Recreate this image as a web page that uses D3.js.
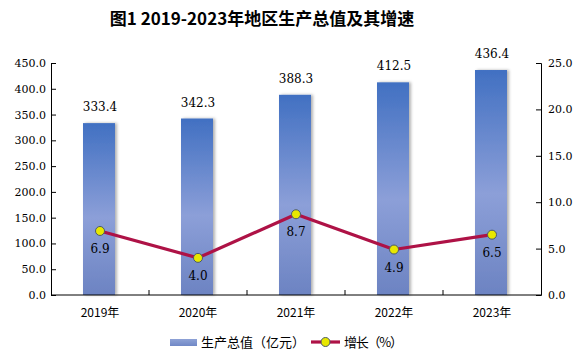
<!DOCTYPE html>
<html><head><meta charset="utf-8">
<script src="https://cdn.jsdelivr.net/npm/d3@7"></script>
<style>body{margin:0;background:#fff}svg{display:block}</style>
</head><body>
<svg id="c" width="580" height="362"></svg>
<script>
const categories = ["2019年","2020年","2021年","2022年","2023年"];
const gdpValues = [333.4, 342.3, 388.3, 412.5, 436.4];
const growthValues = [6.9, 4.0, 8.7, 4.9, 6.5];
const leftTicks = [0,50,100,150,200,250,300,350,400,450];
const rightTicks = [0,5,10,15,20,25];
const title = "图1 2019-2023年地区生产总值及其增速";
const legendLabels = ["生产总值（亿元）","增长（%）"];

const svg = d3.select("#c");
const L = 51, R = 541, T = 63, B = 295;
const x = d3.scaleBand().domain(categories).range([L, R]);
const yL = d3.scaleLinear().domain([0,450]).range([B, T]);
const yR = d3.scaleLinear().domain([0,25]).range([B, T]);
const numFont = "'DejaVu Serif', serif";
const cjk = "'Noto Sans CJK SC', sans-serif";

const defs = svg.append("defs");
const g = defs.append("linearGradient").attr("id","bg").attr("x1",0).attr("y1",0).attr("x2",0).attr("y2",1);
g.append("stop").attr("offset","0%").attr("stop-color","#4170C2");
g.append("stop").attr("offset","55%").attr("stop-color","#8C9FD8");
g.append("stop").attr("offset","100%").attr("stop-color","#6C83C2");
const lg = defs.append("linearGradient").attr("id","lgb").attr("x1",0).attr("y1",0).attr("x2",0).attr("y2",1);
lg.append("stop").attr("offset","0%").attr("stop-color","#8EA2D6");
lg.append("stop").attr("offset","100%").attr("stop-color","#7088C6");
const f = defs.append("filter").attr("id","sh").attr("x","-30%").attr("y","-10%").attr("width","160%").attr("height","120%");
f.append("feDropShadow").attr("dx",2).attr("dy",0).attr("stdDeviation",1.5).attr("flood-color","#000").attr("flood-opacity",0.3);

svg.append("text").attr("x",262).attr("y",25).attr("text-anchor","middle")
  .style("font-family",cjk).style("font-weight","bold").style("font-size","17px").attr("fill","#000").text(title);

// bars
const bw = 32;
svg.selectAll(".bar").data(gdpValues).enter().append("rect")
  .attr("x",(d,i)=>x(categories[i])+x.bandwidth()/2-bw/2-1)
  .attr("y",d=>yL(d)).attr("width",bw).attr("height",d=>B-yL(d))
  .attr("fill","url(#bg)").attr("filter","url(#sh)");
svg.selectAll(".bl").data(gdpValues).enter().append("text")
  .attr("x",(d,i)=>x(categories[i])+x.bandwidth()/2).attr("y",d=>yL(d)-12)
  .attr("text-anchor","middle").style("font-family",numFont).style("font-size","12px").attr("fill","#000")
  .text(d=>d.toFixed(1));

// axes
const axL = d3.axisLeft(yL).tickValues(leftTicks).tickSize(-5).tickPadding(9).tickFormat(d=>d.toFixed(1));
const gl = svg.append("g").attr("transform",`translate(${L},0)`).call(axL);
const axR = d3.axisRight(yR).tickValues(rightTicks).tickSize(-5).tickPadding(9).tickFormat(d=>d.toFixed(1));
const gr = svg.append("g").attr("transform",`translate(${R},0)`).call(axR);
[gl,gr].forEach(a=>{a.select(".domain").attr("stroke","#000");a.selectAll("line").attr("stroke","#000");
  a.selectAll("text").style("font-family",numFont).style("font-size","11px").attr("fill","#000");});
gl.selectAll("text").attr("x",-5);
gr.selectAll("text").attr("x",7);
// x axis
const gx = svg.append("g").attr("transform",`translate(0,${B})`);
gx.append("line").attr("x1",L).attr("x2",R).attr("stroke","#000");
gx.selectAll(".t").data(categories.slice(1)).enter().append("line")
  .attr("x1",d=>x(d)).attr("x2",d=>x(d)).attr("y1",0).attr("y2",-5).attr("stroke","#000");
gx.selectAll(".c").data(categories).enter().append("text")
  .attr("x",d=>x(d)+x.bandwidth()/2).attr("y",22).attr("text-anchor","middle")
  .style("font-family",cjk).style("font-size","12px").attr("fill","#000").text(d=>d);

// line
const line = d3.line().x((d,i)=>x(categories[i])+x.bandwidth()/2).y(d=>yR(d));
svg.append("path").datum(growthValues).attr("d",line).attr("fill","none")
  .attr("stroke","#AE1246").attr("stroke-width",3.2).attr("stroke-linejoin","round");
svg.selectAll(".pt").data(growthValues).enter().append("circle")
  .attr("cx",(d,i)=>x(categories[i])+x.bandwidth()/2).attr("cy",d=>yR(d)).attr("r",4.5)
  .attr("fill","#E8E800").attr("stroke","#4A5A6A").attr("stroke-width",1);
svg.selectAll(".pl").data(growthValues).enter().append("text")
  .attr("x",(d,i)=>x(categories[i])+x.bandwidth()/2).attr("y",d=>yR(d)+22)
  .attr("text-anchor","middle").style("font-family",numFont).style("font-size","12px").attr("fill","#000")
  .text(d=>d.toFixed(1));

// legend
const lgG = svg.append("g");
lgG.append("rect").attr("x",170).attr("y",339).attr("width",27).attr("height",7).attr("fill","url(#lgb)");
lgG.append("text").attr("x",201).attr("y",347).attr("textLength",104).attr("lengthAdjust","spacing")
  .style("font-family",cjk).style("font-size","13px").attr("fill","#000").text(legendLabels[0]);
lgG.append("line").attr("x1",311).attr("x2",340).attr("y1",342).attr("y2",342).attr("stroke","#AE1246").attr("stroke-width",3.2);
lgG.append("circle").attr("cx",325.5).attr("cy",342).attr("r",4.5).attr("fill","#E8E800").attr("stroke","#4A5A6A");
lgG.append("text").attr("x",344).attr("y",347).attr("textLength",59).attr("lengthAdjust","spacing")
  .style("font-family",cjk).style("font-size","13px").attr("fill","#000").text(legendLabels[1]);
</script>
</body></html>
